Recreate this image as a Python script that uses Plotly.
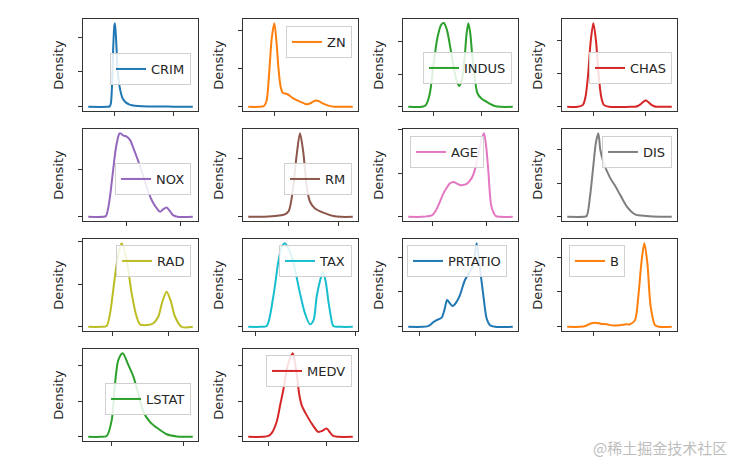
import plotly.graph_objects as go

# ---------------- data (density curves) ----------------
names = ["CRIM", "ZN", "INDUS", "CHAS", "NOX", "RM", "AGE", "DIS",
         "RAD", "TAX", "PRTATIO", "B", "LSTAT", "MEDV"]

crim_x = [-44.5, -12, -8, -6, -4, -2, 0, 1, 3, 5, 7, 10, 13, 16, 20, 25, 30, 40, 60, 80, 100, 133.5]
crim_y = [0, 0, 0.0006, 0.0048, 0.03, 0.084, 0.1164, 0.12, 0.096, 0.06, 0.0396, 0.024, 0.0144,
          0.0096, 0.006, 0.0036, 0.0024, 0.0012, 0.0006, 0.0005, 0.0002, 0]

zn_x = [-50, -30, -20, -15, -10, -5, 0, 4, 8, 12, 16, 20, 25, 30, 36, 43, 50, 57, 62, 70, 75, 80,
        85, 90, 97, 105, 115, 150]
zn_y = [0, 0, 0.00044, 0.0031, 0.0176, 0.0361, 0.044, 0.0343, 0.0198, 0.0106, 0.0075, 0.007,
        0.0066, 0.0057, 0.0044, 0.0035, 0.0026, 0.0018, 0.0013, 0.002, 0.0029, 0.0033, 0.003,
        0.0022, 0.0013, 0.0005, 0.0001, 0]

indus_x = [-13.2, -6, -4, -2, 0, 2, 4, 5.5, 7, 9, 11, 12.5, 13.5, 15, 16.3, 17.3, 18.2, 19.2,
           20.2, 21.5, 23, 25, 27, 29, 32, 35, 41.4]
indus_y = [0, 0, 0.0013, 0.0096, 0.032, 0.0525, 0.0627, 0.064, 0.0589, 0.0435, 0.0269, 0.0179,
           0.016, 0.0218, 0.0384, 0.0563, 0.064, 0.0563, 0.0397, 0.0224, 0.0102, 0.0064, 0.0045,
           0.0026, 0.0006, 0, 0]

chas_x = [-0.5, -0.3, -0.2, -0.15, -0.1, -0.05, 0, 0.05, 0.1, 0.15, 0.2, 0.3, 0.7, 0.8, 0.85,
          0.9, 0.95, 1.0, 1.05, 1.1, 1.15, 1.2, 1.3, 1.5]
chas_y = [0, 0, 0.12, 0.61, 1.98, 4.01, 5.08, 4.01, 1.98, 0.61, 0.12, 0, 0, 0.01, 0.05, 0.15,
          0.29, 0.38, 0.29, 0.15, 0.05, 0.01, 0, 0]

nox_x = [0.142, 0.28, 0.307, 0.34, 0.37, 0.40, 0.43, 0.44, 0.47, 0.50, 0.53, 0.56, 0.60, 0.63,
         0.67, 0.70, 0.74, 0.78, 0.81, 0.84, 0.87, 0.90, 0.93, 0.97, 1.114]
nox_y = [0, 0, 0.035, 0.7, 1.82, 2.9, 3.47, 3.5, 3.4, 3.36, 3.22, 2.9, 2.42, 2.03, 1.47, 1.05,
         0.63, 0.35, 0.21, 0.32, 0.39, 0.25, 0.07, 0, 0]

rm_x = [0.95, 2, 3, 4, 4.6, 5.0, 5.45, 5.78, 6.12, 6.45, 6.79, 7.12, 7.62, 8.45, 9.45, 10.2, 11.39]
rm_y = [0, 0, 0.0036, 0.0108, 0.0216, 0.0504, 0.259, 0.526, 0.72, 0.554, 0.259, 0.13, 0.072,
        0.036, 0.0072, 0, 0]

age_x = [-45.65, -20, -11.4, -1, 6, 13.3, 19, 25, 32, 38, 44, 50, 56, 62, 69, 75, 83, 89, 95,
         99, 103, 109, 117, 125, 148.55]
age_y = [0, 0, 0.0001, 0.0004, 0.0015, 0.0035, 0.0052, 0.0065, 0.0077, 0.008, 0.0077, 0.0073,
         0.0073, 0.0075, 0.0083, 0.0096, 0.0132, 0.0171, 0.0192, 0.0163, 0.0108, 0.0023, 0.0002,
         0, 0]

dis_x = [-4.37, -1, -0.28, 0.42, 1.12, 1.68, 2.17, 2.6, 3.2, 4.6, 5.7, 6.7, 8.1, 9.9, 12.3,
         15.15, 17.63]
dis_y = [0, 0, 0.0025, 0.0595, 0.151, 0.221, 0.248, 0.198, 0.164, 0.117, 0.092, 0.067, 0.032,
         0.0074, 0.0025, 0, 0]

rad_x = [-10.5, -5, -2.4, -0.9, 0.5, 2.3, 4.2, 6.4, 8.6, 10.8, 12.3, 15.2, 18, 20.3, 22.1, 24.0,
         25.9, 27.7, 30.6, 35.5]
rad_y = [0, 0, 0.001, 0.0157, 0.0431, 0.0784, 0.098, 0.0784, 0.0392, 0.0118, 0.0029, 0.002,
         0.0039, 0.0118, 0.0294, 0.0412, 0.0294, 0.0118, 0, 0]

tax_x = [-75, 50, 110, 176, 226, 260, 293, 330, 377, 444, 494, 544, 580, 611, 645, 671, 700, 727,
         754, 778, 850, 973]
tax_y = [0, 0, 0.000035, 0.00126, 0.0027, 0.00333, 0.0035, 0.00326, 0.0027, 0.0014, 0.00056,
         0.000105, 0.00028, 0.00126, 0.00193, 0.00228, 0.00193, 0.00112, 0.00042, 0.000035, 0, 0]

ptratio_x = [7.9, 10.5, 11.3, 11.8, 12.5, 13.0, 13.9, 14.4, 14.9, 15.4, 15.9, 16.5, 17.2, 18.1,
             19.0, 19.6, 20.2, 20.8, 21.4, 22.0, 22.6, 23.5, 26.7]
ptratio_y = [0, 0, 0.0012, 0.0048, 0.0144, 0.0192, 0.0264, 0.048, 0.0768, 0.0672, 0.06, 0.0696,
             0.0912, 0.1344, 0.1584, 0.1776, 0.24, 0.168, 0.0912, 0.024, 0.0048, 0, 0]

b_x = [-198, -100, -60, -20, 13, 60, 101, 150, 202, 250, 278, 316, 341, 367, 387, 410, 435, 468,
       500, 595]
b_y = [0, 0, 0.00012, 0.00048, 0.0006, 0.00042, 0.00036, 0.00018, 0.00024, 0.00036, 0.00036,
       0.00096, 0.00432, 0.0096, 0.012, 0.00912, 0.00288, 0.00024, 0, 0]

lstat_x = [-16.4, -8, -3.6, -0.1, 2.2, 4.5, 7.5, 11.4, 14.9, 18.3, 21.8, 26.4, 31.1, 38.0, 45, 56.1]
lstat_y = [0, 0, 0.0006, 0.0118, 0.0378, 0.0543, 0.059, 0.0507, 0.0425, 0.0307, 0.0177, 0.0106,
           0.0065, 0.0018, 0.0003, 0]

medv_x = [-17.5, -5, -0.2, 3, 7, 10, 12.7, 15, 17, 20.8, 22.5, 24.2, 26.5, 28.5, 32.8, 38.5, 42.8,
          46, 50, 53, 55.7, 60, 72.5]
medv_y = [0, 0, 0.0006, 0.003, 0.0106, 0.0224, 0.033, 0.0443, 0.0519, 0.059, 0.0531, 0.0448,
          0.0295, 0.0224, 0.0153, 0.0077, 0.0035, 0.0041, 0.0059, 0.003, 0.0006, 0, 0]

xs = [crim_x, zn_x, indus_x, chas_x, nox_x, rm_x, age_x, dis_x, rad_x, tax_x, ptratio_x, b_x,
      lstat_x, medv_x]
ys = [crim_y, zn_y, indus_y, chas_y, nox_y, rm_y, age_y, dis_y, rad_y, tax_y, ptratio_y, b_y,
      lstat_y, medv_y]

x_ticks = [[0, 100], [0, 100], [0, 25], [0, 1], [0.5, 1.0], [5, 10], [0, 100], [0, 10],
           [0, 25], [0, 1000], [10, 20], [0, 500], [0, 50], [0, 50]]
y_ticks = [[0, 0.05, 0.1], [0, 0.02, 0.04], [0, 0.025, 0.05], [0, 2, 4], [0, 2], [0, 0.5],
           [0, 0.01, 0.02], [0, 0.1, 0.2], [0, 0.05, 0.1], [0, 0.002], [0, 0.1, 0.2],
           [0, 0.005, 0.01], [0, 0.025, 0.05], [0, 0.025, 0.05]]

# ---------------- styling ----------------
colors = ["#1f77b4", "#ff7f0e", "#2ca02c", "#d62728", "#9467bd", "#8c564b", "#e377c2",
          "#7f7f7f", "#bcbd22", "#17becf", "#1f77b4", "#ff7f0e", "#2ca02c", "#d62728"]

OFF = 8                      # page body margin of the html page
W, H = 743 - OFF, 470 - OFF  # figure size so that it fills the window exactly
col_px = [(83, 198), (243, 358), (403, 518), (562, 677)]
row_px = [(19, 111), (129, 221), (239, 331), (349, 441)]


def px_x(p):
    return (p - OFF) / W


def px_y(p):
    return 1 - (p - OFF) / H


# legend placement in window pixels: (anchor, x_px, top_px)
leg_pos = [("right", 191, 53), ("right", 352, 26), ("right", 512, 52), ("right", 672, 52),
           ("right", 191, 163), ("right", 352, 163), ("left", 410, 136), ("right", 672, 136),
           ("right", 191, 245), ("right", 352, 245), ("left", 407, 245), ("left", 569, 245),
           ("right", 191, 383), ("right", 352, 355)]

FONT = "DejaVu Sans"
fig = go.Figure()
layout = dict(width=W, height=H, margin=dict(l=0, r=0, t=0, b=0, autoexpand=False),
              paper_bgcolor="white", plot_bgcolor="white",
              font=dict(family=FONT, size=13, color="#262626"), showlegend=True)

for i, name in enumerate(names):
    r, c = divmod(i, 4)
    k = "" if i == 0 else str(i + 1)
    xa, ya = "x" + k, "y" + k
    lg = "legend" + k
    fig.add_trace(go.Scatter(x=xs[i], y=ys[i], mode="lines", name=name,
                             line=dict(color=colors[i], width=2, shape="spline", smoothing=0.8),
                             xaxis=xa, yaxis=ya, legend=lg, hoverinfo="x+y"))
    x0, x1 = xs[i][0], xs[i][-1]
    span = x1 - x0
    ymax = max(ys[i])
    cl, cr = col_px[c]
    rt, rb = row_px[r]
    axis_common = dict(showgrid=False, zeroline=False, showline=True, mirror=True,
                       linecolor="#333333", linewidth=1.25, ticks="outside", ticklen=4,
                       tickwidth=1, tickcolor="#333333", showticklabels=False,
                       automargin=False)
    layout["xaxis" + k] = dict(axis_common, domain=[px_x(cl), px_x(cr)], anchor=ya,
                               range=[x0 - 0.05 * span, x1 + 0.05 * span],
                               tickvals=x_ticks[i])
    layout["yaxis" + k] = dict(axis_common, domain=[px_y(rb), px_y(rt)], anchor=xa,
                               range=[-0.05 * ymax, 1.05 * ymax], tickvals=y_ticks[i],
                               title=dict(text="Density", standoff=11,
                                          font=dict(family=FONT, size=13, color="#262626")))
    anc, lx, lt = leg_pos[i]
    layout[lg] = dict(x=px_x(lx), y=px_y(lt), xanchor=anc, yanchor="top",
                      xref="paper", yref="paper",
                      bgcolor="rgba(255,255,255,0.85)", bordercolor="#d0d0d0", borderwidth=1,
                      font=dict(family=FONT, size=13, color="#262626"), itemwidth=30)

fig.update_layout(**layout)
fig.add_annotation(text="@稀土掘金技术社区", x=px_x(729), y=px_y(447), xref="paper", yref="paper",
                   xanchor="right", yanchor="middle", showarrow=False,
                   font=dict(family="Noto Sans CJK SC", size=15, color="#bdbdbd"))

fig.write_html("out.html")
